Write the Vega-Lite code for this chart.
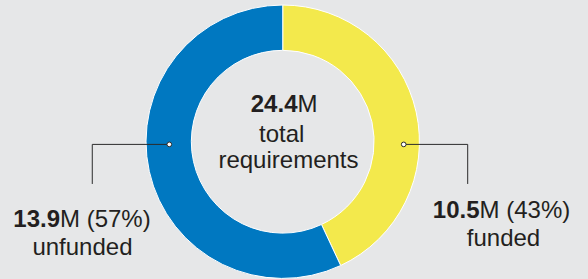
{
  "$schema": "https://vega.github.io/schema/vega-lite/v6.json",
  "width": 588,
  "height": 279,
  "autosize": {"type": "fit", "contains": "padding"},
  "padding": 0,
  "background": "#e6e7e8",
  "config": {
    "view": {"stroke": null},
    "text": {"font": "Liberation Sans", "fontSize": 24, "color": "#231f20", "baseline": "alphabetic"}
  },
  "datasets": {
    "segments": [
      {"status": "funded", "value": 10.5, "detail": "M (43%)", "caption": "funded"},
      {"status": "unfunded", "value": 13.9, "detail": "M (57%)", "caption": "unfunded"}
    ],
    "total": [
      {"value": 24.4, "detail": "M", "caption1": "total", "caption2": "requirements"}
    ]
  },
  "layer": [
    {
      "data": {"name": "segments"},
      "mark": {"type": "arc", "radius": 136.7, "radius2": 91.4, "stroke": "#ffffff", "strokeWidth": 1},
      "encoding": {
        "x": {"datum": 0, "type": "quantitative", "scale": {"domain": [-206.8, 223.3], "nice": false, "zero": false}, "axis": null},
        "y": {"datum": 0, "type": "quantitative", "scale": {"domain": [-99.3, 104.8], "nice": false, "zero": false}, "axis": null},
        "theta": {"field": "value", "type": "quantitative", "stack": true},
        "order": {"field": "status", "sort": "ascending"},
        "color": {"field": "status", "type": "nominal", "scale": {"domain": ["funded", "unfunded"], "range": ["#f3e94c", "#0078c1"]}, "legend": null}
      }
    },
    {
      "data": {"name": "segments"},
      "transform": [{"filter": "datum.status === 'unfunded'"}],
      "mark": {"type": "rule", "color": "#2b2b2b", "strokeWidth": 1},
      "encoding": {"x": {"datum": -139.3}, "x2": {"datum": -82.96}, "y": {"datum": -1.98}}
    },
    {
      "data": {"name": "segments"},
      "transform": [{"filter": "datum.status === 'unfunded'"}],
      "mark": {"type": "rule", "color": "#2b2b2b", "strokeWidth": 1},
      "encoding": {"x": {"datum": -139.3}, "y": {"datum": -1.98}, "y2": {"datum": -31.24}}
    },
    {
      "data": {"name": "segments"},
      "transform": [{"filter": "datum.status === 'funded'"}],
      "mark": {"type": "rule", "color": "#2b2b2b", "strokeWidth": 1},
      "encoding": {"x": {"datum": 88.5}, "x2": {"datum": 135.3}, "y": {"datum": -1.98}}
    },
    {
      "data": {"name": "segments"},
      "transform": [{"filter": "datum.status === 'funded'"}],
      "mark": {"type": "rule", "color": "#2b2b2b", "strokeWidth": 1},
      "encoding": {"x": {"datum": 135.3}, "y": {"datum": -1.98}, "y2": {"datum": -31.24}}
    },
    {
      "data": {"name": "segments"},
      "transform": [{"filter": "datum.status === 'unfunded'"}],
      "mark": {"type": "point", "filled": true, "fill": "#ffffff", "stroke": "#2b2b2b", "strokeWidth": 1, "size": 22, "opacity": 1},
      "encoding": {"x": {"datum": -82.96}, "y": {"datum": -1.98}}
    },
    {
      "data": {"name": "segments"},
      "transform": [{"filter": "datum.status === 'funded'"}],
      "mark": {"type": "point", "filled": true, "fill": "#ffffff", "stroke": "#2b2b2b", "strokeWidth": 1, "size": 22, "opacity": 1},
      "encoding": {"x": {"datum": 88.5}, "y": {"datum": -1.98}}
    },
    {
      "data": {"name": "segments"},
      "transform": [{"filter": "datum.status === 'unfunded'"}],
      "mark": {"type": "text", "align": "right", "fontWeight": "bold"},
      "encoding": {"x": {"datum": -162.9}, "y": {"datum": -63.4}, "text": {"field": "value", "type": "quantitative", "format": ".1f"}}
    },
    {
      "data": {"name": "segments"},
      "transform": [{"filter": "datum.status === 'unfunded'"}],
      "mark": {"type": "text", "align": "left"},
      "encoding": {"x": {"datum": -162.9}, "y": {"datum": -63.4}, "text": {"field": "detail"}}
    },
    {
      "data": {"name": "segments"},
      "transform": [{"filter": "datum.status === 'unfunded'"}],
      "mark": {"type": "text", "align": "center"},
      "encoding": {"x": {"datum": -146.5}, "y": {"datum": -83.9}, "text": {"field": "caption"}}
    },
    {
      "data": {"name": "segments"},
      "transform": [{"filter": "datum.status === 'funded'"}],
      "mark": {"type": "text", "align": "right", "fontWeight": "bold"},
      "encoding": {"x": {"datum": 144.0}, "y": {"datum": -56.5}, "text": {"field": "value", "type": "quantitative", "format": ".1f"}}
    },
    {
      "data": {"name": "segments"},
      "transform": [{"filter": "datum.status === 'funded'"}],
      "mark": {"type": "text", "align": "left"},
      "encoding": {"x": {"datum": 144.0}, "y": {"datum": -56.5}, "text": {"field": "detail"}}
    },
    {
      "data": {"name": "segments"},
      "transform": [{"filter": "datum.status === 'funded'"}],
      "mark": {"type": "text", "align": "center"},
      "encoding": {"x": {"datum": 161.5}, "y": {"datum": -77.0}, "text": {"field": "caption"}}
    },
    {
      "data": {"name": "total"},
      "mark": {"type": "text", "align": "right", "fontWeight": "bold"},
      "encoding": {"x": {"datum": 10.8}, "y": {"datum": 21.9}, "text": {"field": "value", "type": "quantitative", "format": ".1f"}}
    },
    {
      "data": {"name": "total"},
      "mark": {"type": "text", "align": "left"},
      "encoding": {"x": {"datum": 10.8}, "y": {"datum": 21.9}, "text": {"field": "detail"}}
    },
    {
      "data": {"name": "total"},
      "mark": {"type": "text", "align": "center"},
      "encoding": {"x": {"datum": -0.7}, "y": {"datum": -0.5}, "text": {"field": "caption1"}}
    },
    {
      "data": {"name": "total"},
      "mark": {"type": "text", "align": "center"},
      "encoding": {"x": {"datum": 4.2}, "y": {"datum": -19.5}, "text": {"field": "caption2"}}
    }
  ]
}
